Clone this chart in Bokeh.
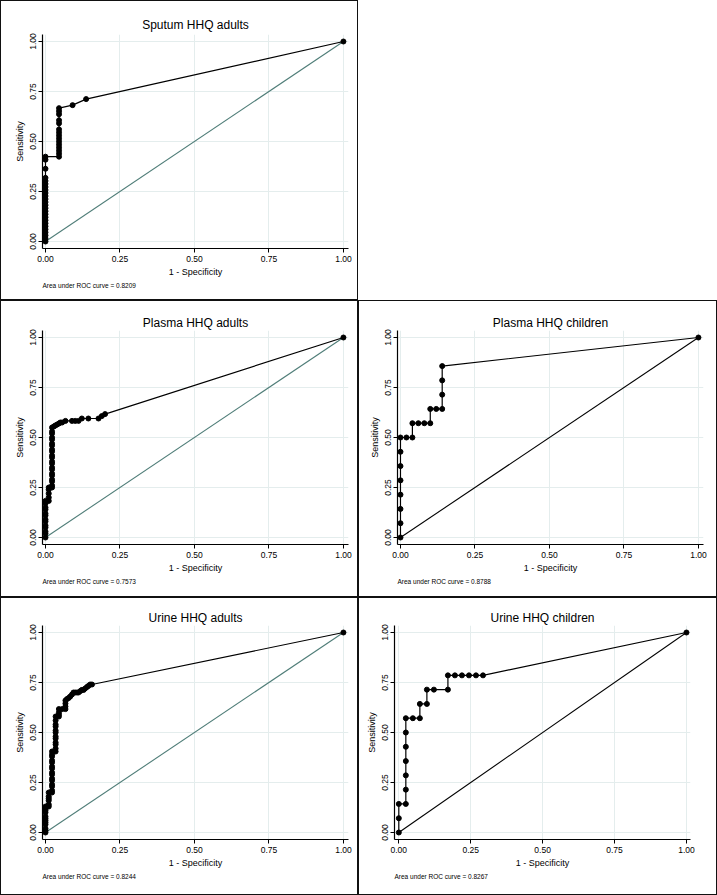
from bokeh.plotting import figure
from bokeh.layouts import column, row, Spacer
from bokeh.models import Title, FixedTicker, PrintfTickFormatter, Range1d
from bokeh.embed import file_html
from bokeh.resources import INLINE

FONT = "Liberation Sans"

# ---------------- data ----------------
titles = ["Sputum HHQ adults", "Plasma HHQ adults", "Plasma HHQ children",
          "Urine HHQ adults", "Urine HHQ children"]
auc_values = ["0.8209", "0.7573", "0.8788", "0.8244", "0.8267"]
tick_values = [0, 0.25, 0.5, 0.75, 1.0]

sputum_adults_fpr = [0, 0, 0, 0, 0, 0, 0, 0, 0, 0, 0, 0, 0, 0, 0, 0, 0, 0, 0, 0, 0, 0, 0, 0, 0,
                     0.0455, 0.0455, 0.0455, 0.0455, 0.0455, 0.0455, 0.0455, 0.0455, 0.0455,
                     0.0455, 0.0455, 0.0455, 0.0455, 0.0455, 0.0455,
                     0.0909, 0.1364, 1.0]
sputum_adults_sens = [0, 0.0152, 0.0303, 0.0455, 0.0606, 0.0758, 0.0909, 0.1061, 0.1212, 0.1364,
                      0.1515, 0.1667, 0.1818, 0.1970, 0.2121, 0.2273, 0.2424, 0.2576, 0.2727,
                      0.2879, 0.3030, 0.3182, 0.3636, 0.4091, 0.4242,
                      0.4242, 0.4394, 0.4545, 0.4697, 0.4848, 0.5000, 0.5152, 0.5303, 0.5455,
                      0.5606, 0.5909, 0.6061, 0.6364, 0.6515, 0.6667,
                      0.6818, 0.7121, 1.0]

plasma_adults_fpr = [0, 0, 0, 0, 0, 0, 0, 0, 0, 0, 0, 0, 0,
                     0.011, 0.011, 0.011, 0.011, 0.011,
                     0.022, 0.022, 0.022, 0.022, 0.022, 0.022, 0.022, 0.022, 0.022, 0.022, 0.022,
                     0.022, 0.022, 0.022, 0.022, 0.022, 0.022, 0.022, 0.022, 0.022, 0.022,
                     0.028, 0.033, 0.039, 0.045, 0.050, 0.056, 0.067, 0.089, 0.100, 0.111,
                     0.122, 0.144, 0.178, 0.189, 0.200, 1.0]
plasma_adults_sens = [0, 0.02, 0.03, 0.05, 0.06, 0.08, 0.09, 0.11, 0.12, 0.14, 0.15, 0.17, 0.183,
                      0.183, 0.20, 0.22, 0.24, 0.25,
                      0.25, 0.26, 0.28, 0.29, 0.31, 0.32, 0.34, 0.35, 0.37, 0.38, 0.40,
                      0.41, 0.43, 0.44, 0.46, 0.47, 0.49, 0.50, 0.52, 0.53, 0.55,
                      0.555, 0.56, 0.565, 0.57, 0.575, 0.575, 0.583, 0.583, 0.583, 0.583,
                      0.595, 0.595, 0.595, 0.607, 0.617, 1.0]

plasma_children_fpr = [0, 0, 0, 0, 0, 0, 0, 0, 0.02, 0.04, 0.04, 0.06, 0.08, 0.10, 0.10,
                       0.12, 0.14, 0.14, 0.14, 0.14, 1.0]
plasma_children_sens = [0, 0.0714, 0.1429, 0.2143, 0.2857, 0.3571, 0.4286, 0.5, 0.5, 0.5,
                        0.5714, 0.5714, 0.5714, 0.5714, 0.6429, 0.6429, 0.6429, 0.7143,
                        0.7857, 0.8571, 1.0]

urine_adults_fpr = [0, 0, 0, 0, 0, 0, 0, 0, 0, 0, 0, 0,
                    0.011, 0.011, 0.011, 0.011, 0.011, 0.011,
                    0.022, 0.022, 0.022, 0.022, 0.022, 0.022, 0.022, 0.022, 0.022, 0.022,
                    0.022, 0.022, 0.022, 0.022, 0.022,
                    0.034, 0.034, 0.034, 0.034, 0.034, 0.034, 0.034, 0.034, 0.034, 0.034,
                    0.034, 0.034,
                    0.045, 0.045, 0.045, 0.045,
                    0.056, 0.067, 0.067, 0.067, 0.067, 0.072, 0.078, 0.083, 0.089, 0.094,
                    0.100, 0.106, 0.111, 0.117, 0.122, 0.128, 0.133, 0.139, 0.144, 0.150,
                    0.156, 1.0]
urine_adults_sens = [0, 0.01, 0.02, 0.04, 0.05, 0.06, 0.07, 0.08, 0.10, 0.11, 0.12, 0.13,
                     0.13, 0.14, 0.16, 0.17, 0.18, 0.20,
                     0.20, 0.21, 0.23, 0.24, 0.26, 0.27, 0.29, 0.30, 0.32, 0.33,
                     0.35, 0.36, 0.38, 0.39, 0.405,
                     0.405, 0.42, 0.44, 0.45, 0.47, 0.48, 0.50, 0.51, 0.53, 0.54,
                     0.56, 0.58,
                     0.58, 0.59, 0.60, 0.617,
                     0.617, 0.617, 0.63, 0.645, 0.66, 0.667, 0.673, 0.68, 0.69, 0.70,
                     0.70, 0.70, 0.70, 0.707, 0.713, 0.713, 0.72, 0.727, 0.733, 0.74,
                     0.74, 1.0]

urine_children_fpr = [0, 0, 0, 0.0244, 0.0244, 0.0244, 0.0244, 0.0244, 0.0244, 0.0244,
                      0.0488, 0.0732, 0.0732, 0.0976, 0.0976, 0.1220, 0.1707, 0.1707,
                      0.1951, 0.2195, 0.2439, 0.2683, 0.2927, 1.0]
urine_children_sens = [0, 0.0714, 0.1429, 0.1429, 0.2143, 0.2857, 0.3571, 0.4286, 0.5, 0.5714,
                       0.5714, 0.5714, 0.6429, 0.6429, 0.7143, 0.7143, 0.7143, 0.7857,
                       0.7857, 0.7857, 0.7857, 0.7857, 0.7857, 1.0]

reference_x = [0, 1]
reference_y = [0, 1]

TEAL = "#4f7d78"
GRID = "#e4eded"

BORDER_CSS = (":host::after { content: ''; position: absolute; left: 0; top: 0; right: 0; "
              "bottom: 0; border: 1.5px solid #111111; box-sizing: border-box; "
              "pointer-events: none; z-index: 100; }")


def make_panel(title, fpr, sens, auc, ref_color, width, height,
               left, right, top, bottom, xr, title_standoff):
    p = figure(width=width, height=height, output_backend="svg", toolbar_location=None,
               x_range=Range1d(*xr), y_range=Range1d(-0.035, 1.035),
               min_border_left=left, min_border_right=right,
               min_border_top=top, min_border_bottom=bottom,
               x_axis_label="1 - Specificity", y_axis_label="Sensitivity")
    p.outline_line_color = None
    p.background_fill_color = "white"
    p.border_fill_color = "white"
    p.styles = {"position": "relative"}
    p.stylesheets = [BORDER_CSS]

    p.title.text = title
    p.title.align = "center"
    p.title.text_font = FONT
    p.title.text_font_size = "12px"
    p.title.text_font_style = "normal"
    p.title.text_color = "black"
    p.title.standoff = title_standoff

    for ax in (p.xaxis[0], p.yaxis[0]):
        ax.ticker = FixedTicker(ticks=tick_values)
        ax.formatter = PrintfTickFormatter(format="%.2f")
        ax.axis_line_color = "black"
        ax.axis_line_width = 1.2
        ax.major_tick_line_color = "black"
        ax.major_tick_line_width = 1
        ax.major_tick_out = 4
        ax.major_tick_in = 0
        ax.minor_tick_line_color = None
        ax.major_label_text_font = FONT
        ax.major_label_text_font_size = "8.5px"
        ax.major_label_text_color = "black"
        ax.major_label_standoff = 3
        ax.axis_label_text_font = FONT
        ax.axis_label_text_font_size = "9px"
        ax.axis_label_text_font_style = "normal"
        ax.axis_label_text_color = "black"
        ax.axis_label_standoff = 2
    p.yaxis[0].major_label_orientation = "vertical"

    p.xgrid.ticker = FixedTicker(ticks=tick_values)
    p.ygrid.ticker = FixedTicker(ticks=tick_values)
    p.grid.grid_line_color = GRID
    p.grid.grid_line_width = 1

    p.line(reference_x, reference_y, line_color=ref_color, line_width=1.1)
    p.line(fpr, sens, line_color="black", line_width=1.2)
    p.scatter(fpr, sens, size=5, fill_color="black", line_color="black")

    note = Title(text="Area under ROC curve = " + auc, align="left",
                 text_font=FONT, text_font_size="6.5px", text_font_style="normal",
                 text_color="black", standoff=0)
    p.add_layout(note, "below")
    return p


XR_WIDE = (-0.010, 1.017)
XR_NARROW = (-0.015, 1.014)

p1 = make_panel(titles[0], sputum_adults_fpr, sputum_adults_sens, auc_values[0], TEAL,
                358, 300, 42, 10, 34, 52, XR_WIDE, 5)
p2 = make_panel(titles[1], plasma_adults_fpr, plasma_adults_sens, auc_values[1], TEAL,
                358, 297, 42, 10, 30, 53, XR_WIDE, 2)
p3 = make_panel(titles[2], plasma_children_fpr, plasma_children_sens, auc_values[2], "black",
                359, 297, 39, 14, 30, 53, XR_WIDE, 2)
p4 = make_panel(titles[3], urine_adults_fpr, urine_adults_sens, auc_values[3], TEAL,
                358, 298, 42, 10, 28, 56, XR_WIDE, 2)
p5 = make_panel(titles[4], urine_children_fpr, urine_children_sens, auc_values[4], "black",
                359, 298, 36, 27, 28, 56, XR_NARROW, 2)

blank = Spacer(width=359, height=300)

layout = column(row(p1, blank), row(p2, p3), row(p4, p5))

open("out.html", "w").write(file_html(layout, INLINE))
